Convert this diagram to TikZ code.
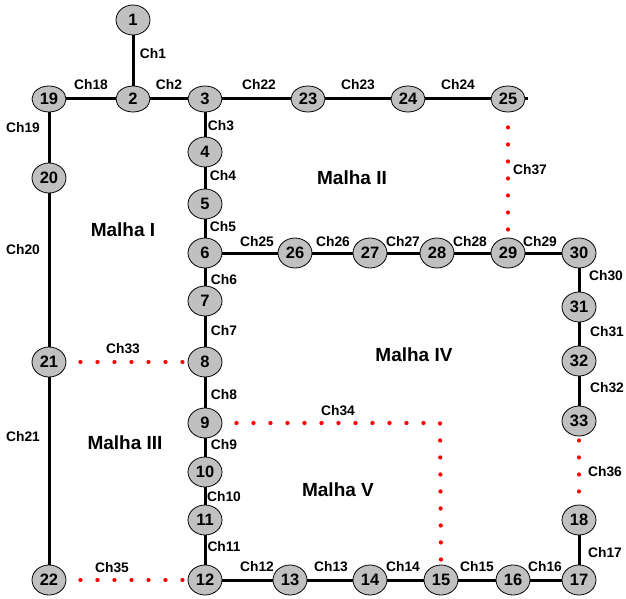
\documentclass[tikz,border=0pt]{standalone}
\usepackage{fontspec}
\setmainfont{Liberation Sans}
\usetikzlibrary{shapes.geometric}
\definecolor{nodegray}{RGB}{192,192,192}
\begin{document}
\begin{tikzpicture}[x=1pt,y=-1pt,
  bus/.style={ellipse,draw,line width=0.8pt,fill=nodegray,minimum width=34pt,minimum height=30pt,inner sep=0pt,font=\bfseries\fontsize{16.5}{16.5}\selectfont},
  bustop/.style={bus,minimum height=26pt},
  wire/.style={line width=3pt},
  open/.style={red,line width=4.2pt,line cap=round,dash pattern=on 0.1pt off 16.9pt},
  lbl/.style={font=\bfseries\fontsize{13.8}{13.8}\selectfont},
  mesh/.style={font=\bfseries\fontsize{19}{19}\selectfont}]
\useasboundingbox (0,0) rectangle (626,599);
% buses
\node[bus] (n1) at (133,20) {1};
\node[bustop] (n19) at (49,99) {19};
\node[bustop] (n2) at (133,99) {2};
\node[bustop] (n3) at (205,99) {3};
\node[bustop] (n23) at (308,99) {23};
\node[bustop] (n24) at (408,99) {24};
\node[bustop] (n25) at (508,99) {25};
\coordinate (stub) at (528,99);
\node[bus] (n4) at (205,152) {4};
\node[bus] (n5) at (205,204) {5};
\node[bus] (n6) at (205,253) {6};
\node[bus] (n26) at (295,253) {26};
\node[bus] (n27) at (370,253) {27};
\node[bus] (n28) at (437,253) {28};
\node[bus] (n29) at (508,253) {29};
\node[bus] (n30) at (579,253) {30};
\node[bus] (n7) at (205,301) {7};
\node[bus] (n8) at (205,362) {8};
\node[bus] (n9) at (205,423) {9};
\node[bus] (n10) at (205,472) {10};
\node[bus] (n11) at (205,520) {11};
\node[bus] (n12) at (205,580) {12};
\node[bus] (n13) at (290,580) {13};
\node[bus] (n14) at (370,580) {14};
\node[bus] (n15) at (441,580) {15};
\node[bus] (n16) at (513,580) {16};
\node[bus] (n17) at (579,580) {17};
\node[bus] (n18) at (579,520) {18};
\node[bus] (n31) at (579,307) {31};
\node[bus] (n32) at (579,361) {32};
\node[bus] (n33) at (579,421) {33};
\node[bus] (n20) at (49,178) {20};
\node[bus] (n21) at (49,362) {21};
\node[bus] (n22) at (49,580) {22};
\coordinate (corner) at (440,423);
% closed switches
\draw[wire] (n1) -- (n2);
\draw[wire] (n19) -- (n2);
\draw[wire] (n2) -- (n3);
\draw[wire] (n3) -- (n23);
\draw[wire] (n23) -- (n24);
\draw[wire] (n24) -- (n25);
\draw[wire] (n25) -- (stub);
\draw[wire] (n19) -- (n20);
\draw[wire] (n20) -- (n21);
\draw[wire] (n21) -- (n22);
\draw[wire] (n3) -- (n4);
\draw[wire] (n4) -- (n5);
\draw[wire] (n5) -- (n6);
\draw[wire] (n6) -- (n7);
\draw[wire] (n7) -- (n8);
\draw[wire] (n8) -- (n9);
\draw[wire] (n9) -- (n10);
\draw[wire] (n10) -- (n11);
\draw[wire] (n11) -- (n12);
\draw[wire] (n6) -- (n26);
\draw[wire] (n26) -- (n27);
\draw[wire] (n27) -- (n28);
\draw[wire] (n28) -- (n29);
\draw[wire] (n29) -- (n30);
\draw[wire] (n30) -- (n31);
\draw[wire] (n31) -- (n32);
\draw[wire] (n32) -- (n33);
\draw[wire] (n12) -- (n13);
\draw[wire] (n13) -- (n14);
\draw[wire] (n14) -- (n15);
\draw[wire] (n15) -- (n16);
\draw[wire] (n16) -- (n17);
\draw[wire] (n17) -- (n18);
% open switches
\draw[open,shorten <=14pt,shorten >=4pt] (n21.east) -- (n8.west);
\draw[open,shorten <=14pt,shorten >=5pt] (n22.east) -- (n12.west);
\draw[open,shorten <=15pt,shorten >=8pt] (n25.south) -- (n29.north);
\draw[open,shorten <=4pt,shorten >=13pt] (n33.south) -- (n18.north);
\draw[open,shorten <=14pt,shorten >=5pt] (n9.east) -- (corner) -- (n15.north);
% switch labels
\node[lbl] (c1) at (153,54) {Ch1};
\node[lbl] (c18) at (91,85) {Ch18};
\node[lbl] (c2) at (169,85) {Ch2};
\node[lbl] (c19) at (23,128) {Ch19};
\node[lbl] (c3) at (221,126) {Ch3};
\node[lbl] (c22) at (259,85) {Ch22};
\node[lbl] (c23) at (358,85) {Ch23};
\node[lbl] (c24) at (458,85) {Ch24};
\node[lbl] (c37) at (530,170) {Ch37};
\node[lbl] (c4) at (223,176) {Ch4};
\node[lbl] (c5) at (223,227) {Ch5};
\node[lbl] (c20) at (23,250) {Ch20};
\node[lbl] (c25) at (257,242) {Ch25};
\node[lbl] (c26) at (333,242) {Ch26};
\node[lbl] (c27) at (403,242) {Ch27};
\node[lbl] (c28) at (470,242) {Ch28};
\node[lbl] (c29) at (540,242) {Ch29};
\node[lbl] (c6) at (224,280) {Ch6};
\node[lbl] (c30) at (606,276) {Ch30};
\node[lbl] (c7) at (224,331) {Ch7};
\node[lbl] (c31) at (607,332) {Ch31};
\node[lbl] (c33) at (123,349) {Ch33};
\node[lbl] (c8) at (224,395) {Ch8};
\node[lbl] (c32) at (607,388) {Ch32};
\node[lbl] (c34) at (338,411) {Ch34};
\node[lbl] (c9) at (224,445) {Ch9};
\node[lbl] (c36) at (605,472) {Ch36};
\node[lbl] (c21) at (23,437) {Ch21};
\node[lbl] (c10) at (224,497) {Ch10};
\node[lbl] (c11) at (224,547) {Ch11};
\node[lbl] (c17) at (605,553) {Ch17};
\node[lbl] (c12) at (257,567) {Ch12};
\node[lbl] (c13) at (331,567) {Ch13};
\node[lbl] (c14) at (403,567) {Ch14};
\node[lbl] (c15) at (477,567) {Ch15};
\node[lbl] (c16) at (545,567) {Ch16};
\node[lbl] (c35) at (112,568) {Ch35};
% mesh labels
\node[mesh] (m1) at (123,230) {Malha I};
\node[mesh] (m2) at (352,178) {Malha II};
\node[mesh] (m4) at (414,355) {Malha IV};
\node[mesh] (m3) at (125,443) {Malha III};
\node[mesh] (m5) at (338,490) {Malha V};
\end{tikzpicture}
\end{document}
